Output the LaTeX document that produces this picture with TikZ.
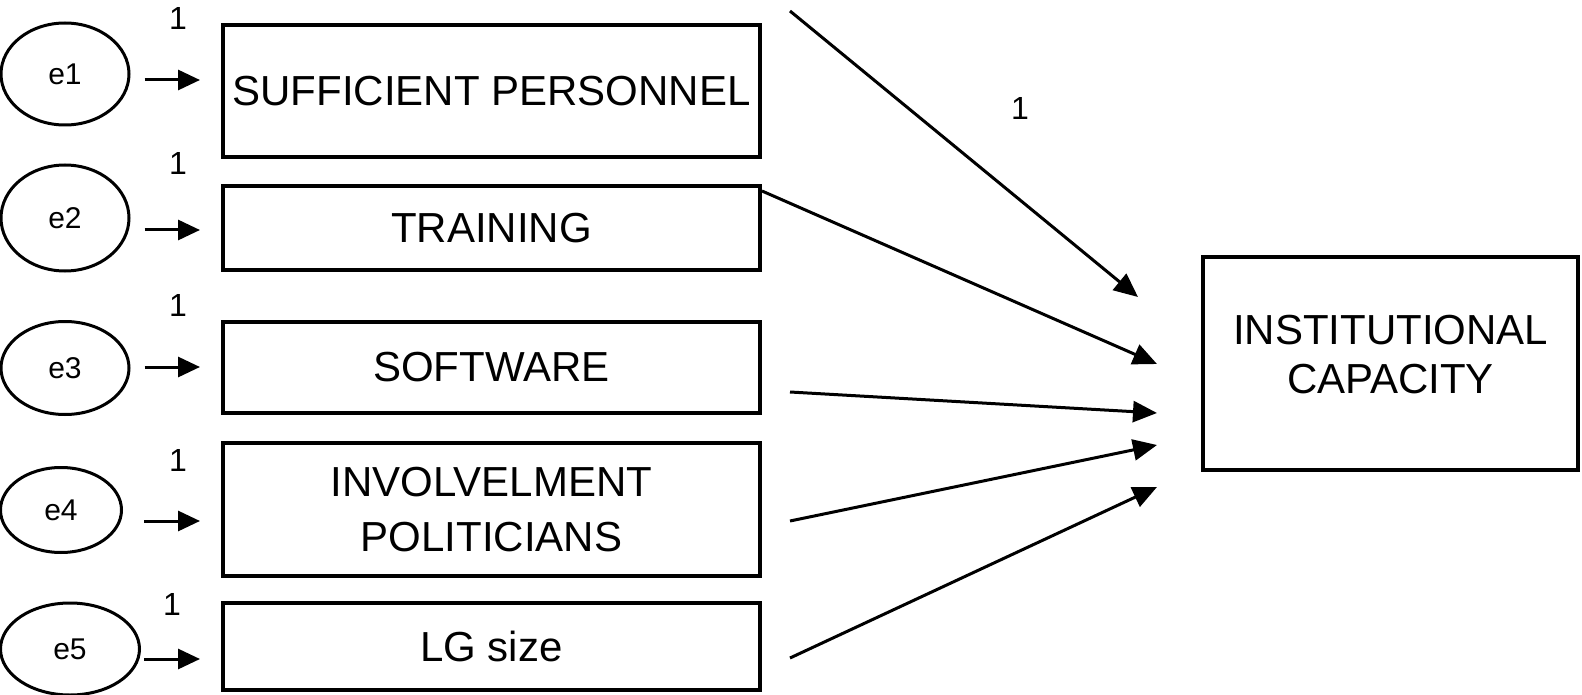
\documentclass[tikz,border=0pt]{standalone}
\usepackage{fontspec}
\setmainfont{Liberation Sans}
\usepackage{tikz}
\usetikzlibrary{
    arrows.meta,
    shapes.geometric,
}
\tikzset{
    semdiag/.style={
        x=1pt, y=-1pt,
        errvar/.style={draw, ellipse, line width=3pt, inner sep=0pt, font=\fontsize{30}{34}\selectfont},
        obsbox/.style={draw, line width=4pt, minimum width=537pt, inner sep=0pt, align=center, font=\fontsize{42}{55}\selectfont},
        latbox/.style={draw, line width=4pt, minimum width=375pt, minimum height=213pt, inner sep=0pt, align=center, font=\fontsize{42}{49}\selectfont},
        weight/.style={inner sep=0pt, font=\fontsize{32}{36}\selectfont},
        errarrow/.style={line width=3pt, -{Triangle[length=22pt,width=20pt]}},
        patharrow/.style={line width=3pt, -{Triangle[length=24pt,width=21pt]}},
    },
}

\begin{document}
\begin{tikzpicture}[semdiag]
    \useasboundingbox (0,0) rectangle (1582,695);

    % error terms
    \node[errvar, minimum width=128pt, minimum height=102pt] (e1) at (65,74) {e1};
    \node[errvar, minimum width=128pt, minimum height=106pt] (e2) at (65,218) {e2};
    \node[errvar, minimum width=128pt, minimum height=93pt] (e3) at (65,368) {e3};
    \node[errvar, minimum width=121pt, minimum height=85pt] (e4) at (61,510) {e4};
    \node[errvar, minimum width=139pt, minimum height=92pt] (e5) at (70,649) {e5};

    % observed variables
    \node[obsbox, minimum height=132pt] (b1) at (491.5,91) {SUFFICIENT PERSONNEL};
    \node[obsbox, minimum height=84pt] (b2) at (491.5,228) {TRAINING};
    \node[obsbox, minimum height=91pt] (b3) at (491.5,367.5) {SOFTWARE};
    \node[obsbox, minimum height=133pt] (b4) at (491.5,509.5) {INVOLVELMENT\\POLITICIANS};
    \node[obsbox, minimum height=87pt] (b5) at (491.5,646.5) {LG size};

    % latent variable
    \node[latbox] (cap) at (1390.5,363.5) {INSTITUTIONAL\\CAPACITY\\[-31pt]};

    % fixed weights
    \node[weight] (w1) at (178,18) {1};
    \node[weight] (w2) at (178,163) {1};
    \node[weight] (w3) at (178,305) {1};
    \node[weight] (w4) at (178,460) {1};
    \node[weight] (w5) at (172,604) {1};
    \node[weight] (w0) at (1020,108) {1};

    % error paths
    \draw[errarrow, shorten <=14pt, shorten >=21pt] (e1.east |- 0,80) -- (b1.west |- 0,80);
    \draw[errarrow, shorten <=14pt, shorten >=21pt] (e2.east |- 0,230) -- (b2.west |- 0,230);
    \draw[errarrow, shorten <=14pt, shorten >=21pt] (e3.east |- 0,367) -- (b3.west |- 0,367);
    \draw[errarrow, shorten <=21pt, shorten >=21pt] (e4.east |- 0,521) -- (b4.west |- 0,521);
    \draw[errarrow, shorten <=3pt, shorten >=21pt] (e5.east |- 0,659) -- (b5.west |- 0,659);

    % paths into the latent variable
    \coordinate (c0) at ([shift={(28,-12)}]b1.north east);
    \draw[patharrow] (c0) -- ([shift={(-63,-66.5)}]cap.west);
    \draw[patharrow] ([shift={(0,7)}]b2.north east) -- ([shift={(-44,0.5)}]cap.west);
    \draw[patharrow] ([shift={(28,24.5)}]b3.east) -- ([shift={(-44,49.5)}]cap.west);
    \draw[patharrow] ([shift={(28,11.5)}]b4.east) -- ([shift={(-44,81.5)}]cap.west);
    \draw[patharrow] ([shift={(28,11.5)}]b5.east) -- ([shift={(-44,123.5)}]cap.west);
\end{tikzpicture}
\end{document}
